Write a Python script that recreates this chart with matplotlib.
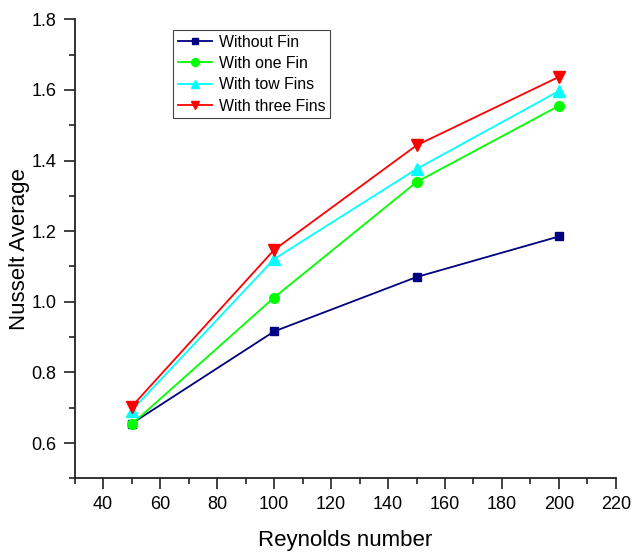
import matplotlib.pyplot as plt
from matplotlib.ticker import MultipleLocator

plt.rcParams['font.family'] = ['Liberation Sans', 'DejaVu Sans']

reynolds = [50, 100, 150, 200]
without_fin = [0.655, 0.916, 1.070, 1.185]
one_fin = [0.653, 1.012, 1.339, 1.555]
two_fins = [0.692, 1.121, 1.376, 1.597]
three_fins = [0.703, 1.147, 1.443, 1.637]

series = [
    ('Without Fin', without_fin, '#000080', 's', 6),
    ('With one Fin', one_fin, '#00ff00', 'o', 7),
    ('With tow Fins', two_fins, '#00ffff', '^', 8),
    ('With three Fins', three_fins, '#ff0000', 'v', 8),
]

fig = plt.figure(figsize=(6.33, 5.52), dpi=100)
ax = fig.add_axes([0.118, 0.1335, 0.855, 0.8315])

for label, vals, color, marker, ms in series:
    ax.plot(reynolds, vals, color=color, marker=marker, markersize=ms,
            linewidth=1.3, label=label)

ax.set_xlim(30, 220)
ax.set_ylim(0.5, 1.8)
ax.xaxis.set_major_locator(MultipleLocator(20))
ax.xaxis.set_minor_locator(MultipleLocator(10))
ax.yaxis.set_major_locator(MultipleLocator(0.2))
ax.yaxis.set_minor_locator(MultipleLocator(0.1))
ax.set_xticks(range(40, 221, 20))
ax.yaxis.set_major_formatter(plt.FuncFormatter(lambda v, p: f'{v:.1f}'))

for side in ('top', 'right'):
    ax.spines[side].set_visible(False)
for side in ('left', 'bottom'):
    ax.spines[side].set_linewidth(1.3)
    ax.spines[side].set_color('#222222')

ax.tick_params(which='major', direction='out', length=8, width=1.2,
               labelsize=13, color='#222222', pad=5)
ax.tick_params(which='minor', direction='out', length=4, width=1.2,
               color='#222222')

ax.set_xlabel('Reynolds number', fontsize=16, labelpad=12)
ax.set_ylabel('Nusselt Average', fontsize=16, labelpad=1)

leg = ax.legend(loc='upper left', bbox_to_anchor=(0.273, 0.946),
                bbox_transform=fig.transFigure, fontsize=11.4,
                fancybox=False, framealpha=1, edgecolor='#444444',
                borderpad=0.3, labelspacing=0.4, handlelength=2.2,
                handletextpad=0.4, borderaxespad=0, markerscale=0.8)
leg.get_frame().set_linewidth(0.8)

fig.savefig('out.png', dpi=100)
